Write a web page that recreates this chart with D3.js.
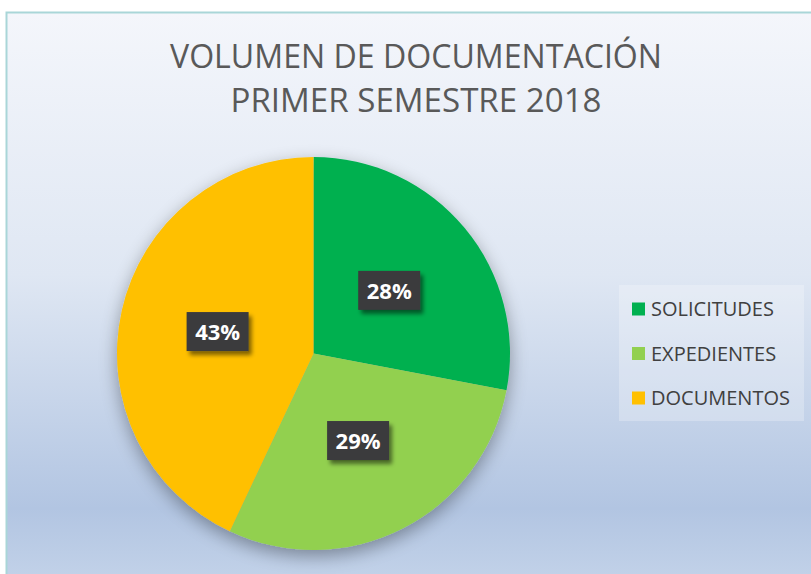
<!DOCTYPE html>
<html lang="es">
<head>
<meta charset="UTF-8">
<title>Volumen de documentación</title>
<style>
  body { margin: 0; background: #ffffff; }
  svg { display: block; }
</style>
</head>
<body>
<script src="https://cdn.jsdelivr.net/npm/d3@7"></script>
<script>
  // datos
  const categories = ['SOLICITUDES', 'EXPEDIENTES', 'DOCUMENTOS']
  const values = [28, 29, 43]
  const colors = ['#00b050', '#92d050', '#ffc000']
  const titleLines = ['VOLUMEN DE DOCUMENTACIÓN', 'PRIMER SEMESTRE 2018']

  const width = 811
  const height = 574
  const cx = 313.5
  const cy = 353.5
  const radius = 196.5

  const svg = d3.select('body').append('svg')
    .attr('width', width)
    .attr('height', height)

  const defs = svg.append('defs')
  const bg = defs.append('linearGradient')
    .attr('id', 'bg')
    .attr('x1', 0).attr('y1', 0).attr('x2', 0).attr('y2', 1)
  ;[[0, '#f4f6fb'], [0.45, '#dfe7f3'], [0.85, '#b2c5e2'], [1, '#c6d5ea']].forEach(([o, c]) => {
    bg.append('stop').attr('offset', o).attr('stop-color', c)
  })

  const pieShadow = defs.append('filter').attr('id', 'pieShadow')
    .attr('x', '-20%').attr('y', '-20%').attr('width', '140%').attr('height', '140%')
  pieShadow.append('feGaussianBlur').attr('in', 'SourceAlpha').attr('stdDeviation', 9)
  pieShadow.append('feOffset').attr('dx', 0).attr('dy', 6).attr('result', 'b')
  pieShadow.append('feComponentTransfer').append('feFuncA').attr('type', 'linear').attr('slope', 0.35)
  const m1 = pieShadow.append('feMerge')
  m1.append('feMergeNode')
  m1.append('feMergeNode').attr('in', 'SourceGraphic')

  const boxShadow = defs.append('filter').attr('id', 'boxShadow')
    .attr('x', '-30%').attr('y', '-30%').attr('width', '160%').attr('height', '160%')
  boxShadow.append('feGaussianBlur').attr('in', 'SourceAlpha').attr('stdDeviation', 2)
  boxShadow.append('feOffset').attr('dx', 3).attr('dy', 4)
  boxShadow.append('feComponentTransfer').append('feFuncA').attr('type', 'linear').attr('slope', 0.5)
  const m2 = boxShadow.append('feMerge')
  m2.append('feMergeNode')
  m2.append('feMergeNode').attr('in', 'SourceGraphic')

  // fondo del área del gráfico
  svg.append('rect')
    .attr('x', 6.5).attr('y', 12.5)
    .attr('width', width + 10).attr('height', height + 10)
    .attr('fill', 'url(#bg)')
    .attr('stroke', '#a9d6d8')
    .attr('stroke-width', 2)

  // título
  svg.append('g').selectAll('text')
    .data(titleLines)
    .join('text')
    .attr('x', 416)
    .attr('y', (d, i) => 68 + i * 44)
    .attr('text-anchor', 'middle')
    .attr('font-family', '"Open Sans", sans-serif')
    .attr('font-size', 33)
    .attr('fill', '#595959')
    .attr('textLength', (d, i) => i === 0 ? 492 : 371)
    .attr('lengthAdjust', 'spacingAndGlyphs')
    .text(d => d)

  // tarta
  const pie = d3.pie().sort(null).value(d => d)
  const arcs = pie(values)
  const arc = d3.arc().innerRadius(0).outerRadius(radius)
  const labelArc = d3.arc().innerRadius(radius * 0.5).outerRadius(radius * 0.5)

  const g = svg.append('g').attr('transform', `translate(${cx},${cy})`)
  g.append('g')
    .attr('filter', 'url(#pieShadow)')
    .selectAll('path')
    .data(arcs)
    .join('path')
    .attr('d', arc)
    .attr('fill', (d, i) => colors[i])

  // etiquetas de datos
  const total = d3.sum(values)
  const labels = g.append('g').selectAll('g')
    .data(arcs)
    .join('g')
    .attr('transform', d => `translate(${labelArc.centroid(d)})`)
  labels.append('rect')
    .attr('x', -31).attr('y', -20)
    .attr('width', 62).attr('height', 39)
    .attr('fill', '#3b3b3d')
    .attr('filter', 'url(#boxShadow)')
  labels.append('text')
    .attr('text-anchor', 'middle')
    .attr('dy', '0.36em')
    .attr('font-family', '"Open Sans", sans-serif')
    .attr('font-weight', 'bold')
    .attr('font-size', 22)
    .attr('fill', '#ffffff')
    .text(d => Math.round(d.data / total * 100) + '%')

  // leyenda
  const legend = svg.append('g')
  legend.append('rect')
    .attr('x', 619).attr('y', 285)
    .attr('width', 185).attr('height', 136)
    .attr('fill', '#ffffff')
    .attr('fill-opacity', 0.25)
  const items = legend.selectAll('g.item')
    .data(categories)
    .join('g')
    .attr('class', 'item')
    .attr('transform', (d, i) => `translate(632,${309 + i * 44.5})`)
  items.append('rect')
    .attr('x', 0).attr('y', -6.5)
    .attr('width', 13).attr('height', 13)
    .attr('fill', (d, i) => colors[i])
  items.append('text')
    .attr('x', 19)
    .attr('y', 7)
    .attr('font-family', '"Open Sans", sans-serif')
    .attr('font-size', 20)
    .attr('fill', '#404040')
    .text(d => d)
</script>
</body>
</html>
